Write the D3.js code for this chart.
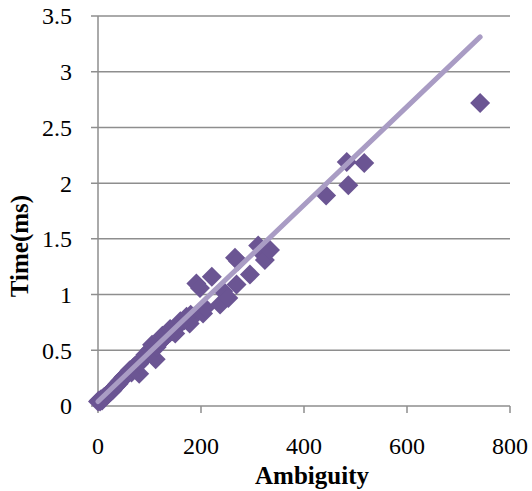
<!DOCTYPE html>
<html>
<head>
<meta charset="utf-8">
<script src="https://cdn.jsdelivr.net/npm/d3@7"></script>
<style>
  body { margin: 0; background: #fff; }
  text { font-family: "Liberation Serif", "DejaVu Serif", serif; fill: #000; }
</style>
</head>
<body>
<div id="chart-area"></div>
<script>
// values
const ambiguity = [0, 2, 4, 6, 8, 10, 12, 15, 18, 20, 22, 25, 28, 30, 33, 35, 38, 40, 42, 45,
    48, 50, 52, 55, 58, 60, 62, 65, 68, 70, 72, 75, 80, 80, 82, 85, 88, 90, 92, 95,
    98, 100, 103, 107, 112, 114, 118, 122, 126, 130, 135, 140, 145, 150, 155, 162, 168, 175, 180, 185,
    105, 125, 140, 160, 172, 150, 178,
    191, 198, 204, 208, 221, 237, 243, 253, 266, 269, 272, 295, 311, 321, 324, 334,
    443, 483, 486, 517, 742];
const timeMs = [0.04, 0.05, 0.04, 0.06, 0.05, 0.07, 0.08, 0.09, 0.1, 0.11, 0.12, 0.13, 0.14, 0.16, 0.17, 0.18, 0.2, 0.2, 0.22, 0.23,
    0.25, 0.26, 0.27, 0.28, 0.29, 0.31, 0.32, 0.3, 0.34, 0.35, 0.36, 0.37, 0.29, 0.38, 0.4, 0.41, 0.43, 0.44, 0.46, 0.46,
    0.48, 0.5, 0.51, 0.52, 0.42, 0.53, 0.56, 0.58, 0.6, 0.62, 0.64, 0.66, 0.67, 0.7, 0.72, 0.75, 0.77, 0.79, 0.82, 0.8,
    0.55, 0.63, 0.69, 0.76, 0.8, 0.65, 0.74,
    1.1, 1.06, 0.83, 0.88, 1.16, 0.91, 1.03, 0.97, 1.33, 1.09, 1.3, 1.18, 1.44, 1.36, 1.31, 1.4,
    1.89, 2.19, 1.98, 2.18, 2.72];
const xTicks = [0, 200, 400, 600, 800];
const yTicks = [0, 0.5, 1, 1.5, 2, 2.5, 3, 3.5];
const trendSlope = 0.00441;
const trendIntercept = 0.04;

const W = 532, H = 491;
const margin = { top: 16, right: 22, bottom: 85, left: 98 };
const width = W - margin.left - margin.right;
const height = H - margin.top - margin.bottom;

const data = ambiguity.map((a, i) => ({ a: a, t: timeMs[i] }));

const svg = d3.select('#chart-area')
    .append('svg')
    .attr('width', W)
    .attr('height', H);

const g = svg.append('g')
    .attr('transform', `translate(${margin.left}, ${margin.top})`);

const x = d3.scaleLinear().domain([0, 800]).range([0, width]);
const y = d3.scaleLinear().domain([0, 3.5]).range([height, 0]);

const gridColor = '#8e8e8e';

// horizontal gridlines (with small ticks to the left of the axis)
g.selectAll('.grid')
    .data(yTicks)
    .enter()
    .append('line')
    .attr('x1', -7)
    .attr('x2', width)
    .attr('y1', d => y(d))
    .attr('y2', d => y(d))
    .attr('stroke', gridColor)
    .attr('stroke-width', 1.5);

// y axis line
g.append('line')
    .attr('x1', 0).attr('x2', 0)
    .attr('y1', 0).attr('y2', height)
    .attr('stroke', gridColor)
    .attr('stroke-width', 1.5);

// x ticks
g.selectAll('.xtick')
    .data(xTicks)
    .enter()
    .append('line')
    .attr('x1', d => x(d)).attr('x2', d => x(d))
    .attr('y1', height).attr('y2', height + 7)
    .attr('stroke', gridColor)
    .attr('stroke-width', 1.5);

g.selectAll('.xlabel')
    .data(xTicks)
    .enter()
    .append('text')
    .attr('x', d => x(d))
    .attr('y', height + 48)
    .attr('text-anchor', 'middle')
    .style('font-size', '24px')
    .text(d => d);

g.selectAll('.ylabel')
    .data(yTicks)
    .enter()
    .append('text')
    .attr('x', -26)
    .attr('y', d => y(d))
    .attr('dy', '0.35em')
    .attr('text-anchor', 'end')
    .style('font-size', '24px')
    .text(d => d);

// markers
const diamond = d3.symbol().type(d3.symbolSquare).size(200);
g.selectAll('.pt')
    .data(data)
    .enter()
    .append('path')
    .attr('d', diamond)
    .attr('transform', d => `translate(${x(d.a)}, ${y(d.t)}) rotate(45)`)
    .attr('fill', '#6b5593');

// linear trend line
const trendX = [0, d3.max(ambiguity)];
g.append('line')
    .attr('x1', x(trendX[0]))
    .attr('y1', y(trendIntercept + trendSlope * trendX[0]))
    .attr('x2', x(trendX[1]))
    .attr('y2', y(trendIntercept + trendSlope * trendX[1]))
    .attr('stroke', '#a99cc4')
    .attr('stroke-width', 5)
    .attr('stroke-linecap', 'round');

// axis titles
svg.append('text')
    .attr('x', margin.left + width / 2 + 8)
    .attr('y', 484)
    .attr('text-anchor', 'middle')
    .style('font-size', '25px')
    .style('font-weight', 'bold')
    .text('Ambiguity');

svg.append('text')
    .attr('transform', 'translate(28, 246) rotate(-90)')
    .attr('text-anchor', 'middle')
    .style('font-size', '25px')
    .style('font-weight', 'bold')
    .text('Time(ms)');
</script>
</body>
</html>
